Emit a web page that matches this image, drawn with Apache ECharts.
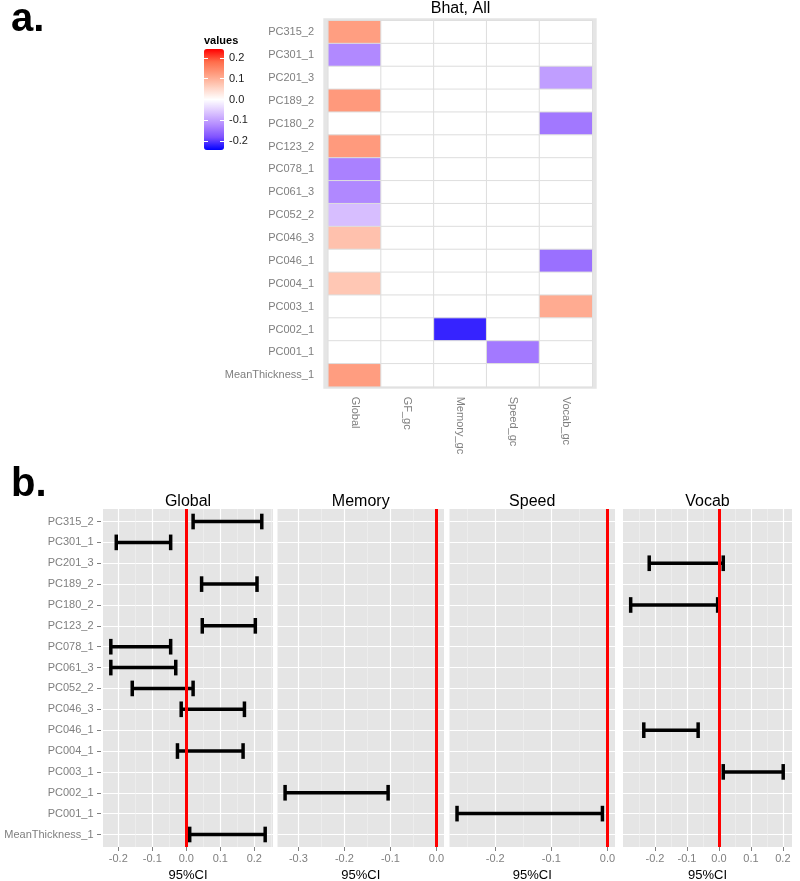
<!DOCTYPE html>
<html><head><meta charset="utf-8">
<script src="https://cdn.jsdelivr.net/npm/echarts@6/dist/echarts.min.js"></script>
<style>html,body{margin:0;padding:0;background:#fff}#c{width:800px;height:881px}</style>
</head><body><div id="c"></div><script>
// ---------- data ----------
const rows = ['PC315_2','PC301_1','PC201_3','PC189_2','PC180_2','PC123_2','PC078_1','PC061_3','PC052_2','PC046_3','PC046_1','PC004_1','PC003_1','PC002_1','PC001_1','MeanThickness_1'];
const heatCols = ['Global','GF_gc','Memory_gc','Speed_gc','Vocab_gc'];
const heatGlobal = [0.122,-0.124,0,0.127,0,0.126,-0.132,-0.125,-0.068,0.079,0,0.072,0,0,0,0.123];
const heatGF     = [0,0,0,0,0,0,0,0,0,0,0,0,0,0,0,0];
const heatMemory = [0,0,0,0,0,0,0,0,0,0,0,0,0,-0.217,0,0];
const heatSpeed  = [0,0,0,0,0,0,0,0,0,0,0,0,0,0,-0.14,0];
const heatVocab  = [0,0,-0.102,0,-0.141,0,0,0,0,0,-0.15,0,0.106,0,0,0];
const legendTicks = [-0.2,-0.1,0,0.1,0.2];

const facetNames = ['Global','Memory','Speed','Vocab'];
const ciGlobalLo = [0.020,-0.206,null,0.045,null,0.047,-0.222,-0.222,-0.159,-0.015,null,-0.026,null,null,null,0.010];
const ciGlobalHi = [0.222,-0.046,null,0.208,null,0.203,-0.046,-0.031,0.020,0.171,null,0.167,null,null,null,0.232];
const ciMemoryLo = [null,null,null,null,null,null,null,null,null,null,null,null,null,-0.329,null,null];
const ciMemoryHi = [null,null,null,null,null,null,null,null,null,null,null,null,null,-0.105,null,null];
const ciSpeedLo  = [null,null,null,null,null,null,null,null,null,null,null,null,null,null,-0.268,null];
const ciSpeedHi  = [null,null,null,null,null,null,null,null,null,null,null,null,null,null,-0.009,null];
const ciVocabLo  = [null,null,-0.218,null,-0.276,null,null,null,null,null,-0.235,null,0.0135,null,null,null];
const ciVocabHi  = [null,null,0.0135,null,-0.004,null,null,null,null,null,-0.065,null,0.201,null,null,null];
const majorTicks = [[-0.2,-0.1,0,0.1,0.2],[-0.3,-0.2,-0.1,0],[-0.2,-0.1,0],[-0.2,-0.1,0,0.1,0.2]];
const minorTicks = [[-0.15,-0.05,0.05,0.15,0.25],[-0.25,-0.15,-0.05],[-0.25,-0.15,-0.05],[-0.25,-0.15,-0.05,0.05,0.15]];
const panelMin = [-0.245,-0.3455,-0.2814,-0.300];
const panelMax = [0.255,0.0165,0.0134,0.2285];

// ---------- layout ----------
const FONT = "'Liberation Sans', Arial, Helvetica, sans-serif";
const GREY = '#7F7F7F';
const panelLeft = [103, 277.5, 449.5, 623];
const panelWidth = [170, 166.5, 165.5, 169];

const heatCols3 = [heatGlobal, heatGF, heatMemory, heatSpeed, heatVocab];
const heatData = [];
heatCols3.forEach((col, ci) => col.forEach((v, ri) => heatData.push([ci, ri, v])));
const ciLo = [ciGlobalLo, ciMemoryLo, ciSpeedLo, ciVocabLo];
const ciHi = [ciGlobalHi, ciMemoryHi, ciSpeedHi, ciVocabHi];
const rowIdx = rows.map((r, i) => i);

const grid = [
  {left:323.3, top:18.3, width:273.4, height:370.4, show:true, backgroundColor:'#E5E5E5', borderWidth:0, outerBoundsMode:'none'},
  {left:328.3, top:20.7, width:264, height:366, outerBoundsMode:'none'},
  {left:204, top:49, width:20, height:101, outerBoundsMode:'none'}
];
const xAxis = [
  {gridIndex:0, type:'value', show:false, min:0, max:1},
  {gridIndex:1, type:'category', data:heatCols, position:'bottom', offset:2,
   axisLine:{show:false}, axisTick:{alignWithLabel:true, length:5, lineStyle:{color:GREY}},
   axisLabel:{rotate:-90, margin:8, color:GREY, fontSize:11, fontFamily:FONT}, splitLine:{show:false}},
  {gridIndex:2, type:'value', show:false, min:0, max:1}
];
const yAxis = [
  {gridIndex:0, type:'value', show:false, min:0, max:1},
  {gridIndex:1, type:'category', data:rows, inverse:true, offset:5.8,
   axisLine:{show:false}, axisTick:{alignWithLabel:true, length:4.5, lineStyle:{color:GREY}},
   axisLabel:{margin:8.5, color:GREY, fontSize:11, fontFamily:FONT}, splitLine:{show:false}},
  {gridIndex:2, type:'value', position:'right', min:-0.243, max:0.243, z:10,
   axisLine:{show:false, onZero:false}, axisTick:{inside:true, length:4, customValues:legendTicks, lineStyle:{color:'#fff'}},
   axisLabel:{customValues:legendTicks, formatter:v=>v.toFixed(1), margin:5, color:'#1A1A1A', fontSize:11, fontFamily:FONT},
   splitLine:{show:false}},
  {gridIndex:2, type:'value', position:'left', min:-0.243, max:0.243, z:10,
   axisLine:{show:false, onZero:false}, axisTick:{inside:true, length:4, customValues:legendTicks, lineStyle:{color:'#fff'}},
   axisLabel:{show:false}, splitLine:{show:false}}
];
const series = [{
  type:'heatmap', xAxisIndex:1, yAxisIndex:1, data:heatData,
  itemStyle:{borderColor:'#DEDEDE', borderWidth:1}, emphasis:{disabled:true}
}];

function renderErrorBar(params, api) {
  const r = api.value(0), lo = api.value(1), hi = api.value(2);
  const a = api.coord([lo, r]), b = api.coord([hi, r]);
  const half = api.size([0, 1])[1] * 0.375;
  const style = {stroke:'#000', lineWidth:3.5, fill:null};
  return {type:'group', children:[
    {type:'line', shape:{x1:a[0], y1:a[1], x2:b[0], y2:b[1]}, style},
    {type:'line', shape:{x1:a[0], y1:a[1]-half, x2:a[0], y2:a[1]+half}, style},
    {type:'line', shape:{x1:b[0], y1:b[1]-half, x2:b[0], y2:b[1]+half}, style}
  ]};
}

facetNames.forEach((name, i) => {
  grid.push({left:panelLeft[i], top:509, width:panelWidth[i], height:338, show:true, backgroundColor:'#E5E5E5', borderWidth:0, outerBoundsMode:'none'});
  const g = 3 + i;
  const xi = 3 + 2*i, yi = 4 + i;
  xAxis.push({gridIndex:g, type:'value', position:'bottom', min:panelMin[i], max:panelMax[i],
    name:'95%CI', nameLocation:'middle', nameGap:22,
    nameTextStyle:{fontSize:13, color:'#000', fontFamily:FONT, lineHeight:13},
    axisLine:{show:false, onZero:false}, axisTick:{customValues:majorTicks[i], length:4, lineStyle:{color:GREY}},
    axisLabel:{customValues:majorTicks[i], formatter:v=>v.toFixed(1), margin:6, color:GREY, fontSize:11, fontFamily:FONT},
    splitLine:{show:false}});
  xAxis.push({gridIndex:g, type:'value', position:'top', min:panelMin[i], max:panelMax[i],
    name:name, nameLocation:'middle', nameGap:-1,
    nameTextStyle:{fontSize:16, color:'#000', fontFamily:FONT, lineHeight:16},
    axisLine:{show:false, onZero:false}, axisTick:{show:false}, axisLabel:{show:false},
    splitLine:{show:false}});
  yAxis.push({gridIndex:g, type:'value', inverse:true, min:-0.6, max:15.6, offset: i === 0 ? 2 : 0,
    axisLine:{show:false, onZero:false},
    axisTick:{show:i === 0, customValues:rowIdx, length:4, lineStyle:{color:GREY}},
    axisLabel:{show:i === 0, customValues:rowIdx, formatter:v=>rows[Math.round(v)], margin:7.5, color:GREY, fontSize:11, fontFamily:FONT},
    splitLine:{show:true, lineStyle:{color:'#FFFFFF', width:1.2}}});
  // vertical panel grid lines (major white, minor grey95)
  const gl = majorTicks[i].map(v => ({xAxis:v, lineStyle:{color:'#FFFFFF', width:1.2, type:'solid'}}))
    .concat(minorTicks[i].map(v => ({xAxis:v, lineStyle:{color:'#F2F2F2', width:0.6, type:'solid'}})));
  series.push({type:'line', xAxisIndex:xi, yAxisIndex:yi, data:[], silent:true,
    markLine:{z:1, silent:true, symbol:['none','none'], label:{show:false}, emphasis:{disabled:true}, data:gl}});
  const data = [];
  ciLo[i].forEach((lo, r) => { if (lo !== null) data.push([r, lo, ciHi[i][r]]); });
  series.push({type:'custom', xAxisIndex:xi, yAxisIndex:yi, z:2,
    encode:{x:[1,2], y:0}, data:data, renderItem:renderErrorBar, silent:true});
  series.push({type:'line', xAxisIndex:xi, yAxisIndex:yi, data:[], silent:true,
    markLine:{z:5, silent:true, symbol:['none','none'], label:{show:false}, emphasis:{disabled:true},
      lineStyle:{color:'#FF0000', width:3, type:'solid'}, data:[{xAxis:0}]}});
});

const chart = echarts.init(document.getElementById('c'), null, {renderer:'canvas'});
chart.setOption({
  animation:false,
  textStyle:{fontFamily:FONT},
  grid, xAxis, yAxis, series,
  visualMap:{type:'continuous', seriesIndex:0, dimension:2, min:-0.243, max:0.243,
    left:204, top:49, itemWidth:20, itemHeight:101, padding:0, calculable:false, hoverLink:false,
    inRange:{color:['#0000FF','#7E51FF','#B38BFF','#DCC5FF','#FFFFFF','#FFD0C0','#FF9E81','#FF6C4A','#FF0000']}},
  graphic:[
    {type:'text', x:11, y:20, style:{text:'a.', font:'bold 40px '+FONT, fill:'#000', align:'left', verticalAlign:'middle', textAlign:'left', textVerticalAlign:'middle'}},
    {type:'text', x:11, y:485, style:{text:'b.', font:'bold 40px '+FONT, fill:'#000', align:'left', verticalAlign:'middle', textAlign:'left', textVerticalAlign:'middle'}},
    {type:'text', x:460.5, y:8.5, style:{text:'Bhat, All', font:'16px '+FONT, fill:'#000', align:'center', verticalAlign:'middle', textAlign:'center', textVerticalAlign:'middle'}},
    {type:'text', x:204, y:41, style:{text:'values', font:'bold 11px '+FONT, fill:'#000', align:'left', verticalAlign:'middle', textAlign:'left', textVerticalAlign:'middle'}}
  ]
});
</script></body></html>
